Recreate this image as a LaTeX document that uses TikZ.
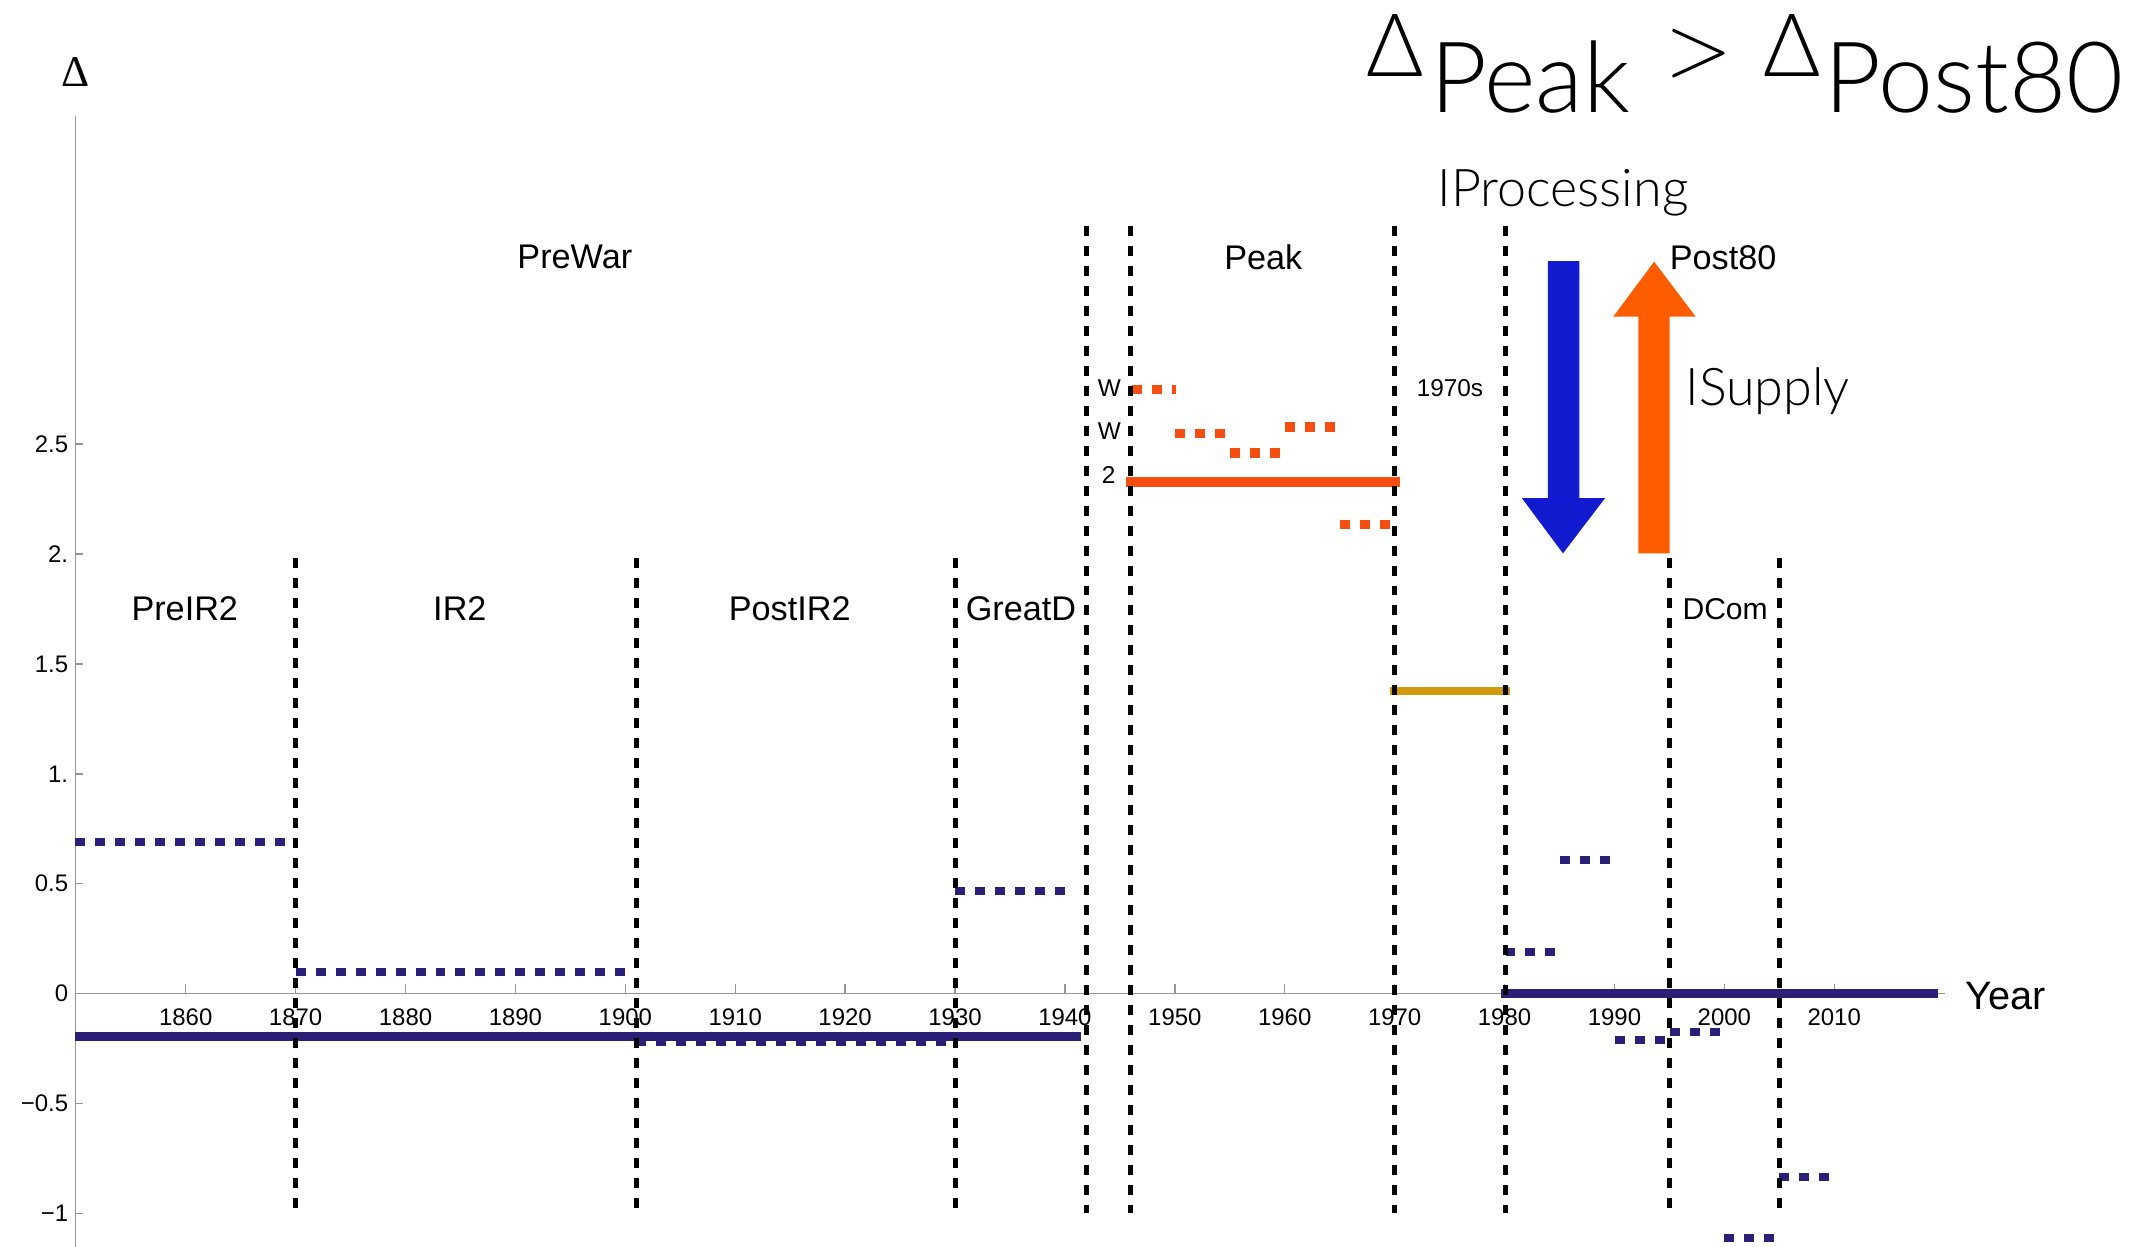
\documentclass[tikz,border=0pt]{standalone}
\usepackage{fontspec}
\setmainfont{Liberation Sans}
\newfontfamily\deltaserif{Liberation Serif}
\newfontfamily\thinsans{Lato Light}

\definecolor{navy}{RGB}{42,32,120}
\definecolor{peakorange}{RGB}{246,78,16}
\definecolor{goldline}{RGB}{208,154,12}
\definecolor{procblue}{RGB}{19,27,208}
\definecolor{supplyorange}{RGB}{255,92,0}
\definecolor{axisgray}{RGB}{150,150,150}

\begin{document}
\begin{tikzpicture}[x=1pt,y=-1pt,
  axisline/.style={draw=axisgray,line width=1pt},
  divider/.style={draw=black,line width=3.5pt,dash pattern=on 7.3pt off 7.3pt},
  trend/.style={line width=6.6pt},
  sublevel/.style={line width=5.8pt,dash pattern=on 7.3pt off 7.3pt},
  era/.style={font=\fontsize{25}{30}\selectfont,anchor=base,inner sep=0pt},
  smalllab/.style={font=\fontsize{17.8}{20}\selectfont,anchor=base,inner sep=0pt},
  ticklab/.style={font=\fontsize{17.5}{20}\selectfont,inner sep=0pt},
  bigword/.style={font=\thinsans\fontsize{38}{44}\selectfont,anchor=base,inner sep=0pt},
  titleD/.style={font=\thinsans\fontsize{64}{70}\selectfont,anchor=base west,inner sep=0pt},
  titleW/.style={font=\thinsans\fontsize{72}{78}\selectfont,anchor=base west,inner sep=0pt},
]
\useasboundingbox (0,0) rectangle (1568,911);

% axes
\coordinate (ytop) at (55,85);
\coordinate (ybot) at (55,911);
\coordinate (xleft) at (55,726);
\coordinate (xright) at (1421,726);
\draw[axisline] (ytop) -- (ybot);
\draw[axisline] (xleft) -- (xright);
\node[font=\deltaserif\fontsize{32}{36}\selectfont,inner sep=0pt] (ylabel) at (55.5,52.4) {Δ};
\node[font=\fontsize{29}{34}\selectfont,anchor=base west,inner sep=0pt] (xlabel) at (1436,737.5) {Year};

% year ticks
\foreach \yv in {1860,1870,...,2010}{
  \pgfmathsetmacro\xx{216+(\yv-1870)*8.03}
  \draw[axisline] (\xx,726) -- (\xx,719);
  \node[ticklab,anchor=base] (yr\yv) at (\xx,749) {\yv};
}

% value ticks
\foreach \v/\lab [count=\i] in {2.5/2.5,2/2.,1.5/1.5,1/1.,0.5/0.5,0/0,-0.5/{−0.5},-1/{−1}}{
  \pgfmathsetmacro\yy{726-\v*160.6}
  \draw[axisline] (55,\yy) -- (61,\yy);
  \node[ticklab,anchor=east] (val\i) at (50,\yy) {\lab};
}

% long-run levels (solid)
\draw[trend,navy] (55,757) -- (790,757);
\draw[trend,navy] (1097,726) -- (1416,726);
\draw[line width=7.3pt,peakorange] (823,352) -- (1023,352);
\draw[line width=6pt,goldline] (1015.6,504.7) -- (1103,504.7);

% sub-period levels (square dots)
\begin{scope}[sublevel,navy]
  \draw (55,615) -- (212,615);
  \draw (216,710) -- (462,710);
  \draw (465,761) -- (695,761);
  \draw (698,651) -- (780,651);
  \draw (1100,695.5) -- (1136,695.5);
  \draw (1140,628.4) -- (1176,628.4);
  \draw (1180,760) -- (1217,760);
  \draw (1220,753.8) -- (1257,753.8);
  \draw (1260,904.6) -- (1297,904.6);
  \draw (1300,859.7) -- (1337,859.7);
\end{scope}
\begin{scope}[sublevel,peakorange,line width=6.8pt]
  \draw (827,284.5) -- (859,284.5);
  \draw (858.5,316.6) -- (895.8,316.6);
  \draw (898.7,331) -- (935.8,331);
  \draw (938.9,312) -- (976,312);
  \draw (979,383) -- (1016,383);
\end{scope}

% period dividers
\foreach \x/\t [count=\i] in {216/408,465/408,698/408,794/165,826/165,1019/165,1100/165,1220/408,1300/408}{
  \coordinate (dtop\i) at (\x,\t);
  \coordinate (dbot\i) at (\x,886);
  \draw[divider] (dtop\i) -- (dbot\i);
}

% period names
\node[era] (prewar) at (420,196) {PreWar};
\node[era] (peak) at (923,196.6) {Peak};
\node[era] (post80) at (1259,196.6) {Post80};
\node[era] (preir2) at (135,453.5) {PreIR2};
\node[era] (ir2) at (336,453.5) {IR2};
\node[era] (postir2) at (577,453.5) {PostIR2};
\node[era] (greatd) at (746,453.5) {GreatD};
\node[era,font=\fontsize{22}{26}\selectfont] (dcom) at (1260.5,453) {DCom};
\node[smalllab] (seventies) at (1059.4,289.8) {1970s};
\node[smalllab] (warA) at (810.5,289.8) {W};
\node[smalllab] (warB) at (810.5,321) {W};
\node[smalllab] (two) at (810,353) {2};

% shift arrows
\fill[procblue] (1131,190.7) -- (1154,190.7) -- (1154,364) -- (1172.7,364)
  -- (1142,404.3) -- (1112,364) -- (1131,364) -- cycle;
\fill[supplyorange] (1197,404.3) -- (1220,404.3) -- (1220,231.4) -- (1239,231.4)
  -- (1208.6,191.2) -- (1178.7,231.4) -- (1197,231.4) -- cycle;
\node[bigword] (iproc) at (1142,151) {IProcessing};
\node[bigword] (isupply) at (1291.5,296) {ISupply};

% headline inequality
\node[titleD] (dA) at (998,56) {Δ};
\node[titleW] (peakword) at (1045,82) {Peak};
\node[font=\fontfamily{lmr}\fontsize{64}{70}\selectfont,inner sep=0pt] (gt) at (1241.5,39) {>};
\node[titleD] (dB) at (1288,56) {Δ};
\node[titleW] (postword) at (1333,82) {Post80};
\end{tikzpicture}
\end{document}
